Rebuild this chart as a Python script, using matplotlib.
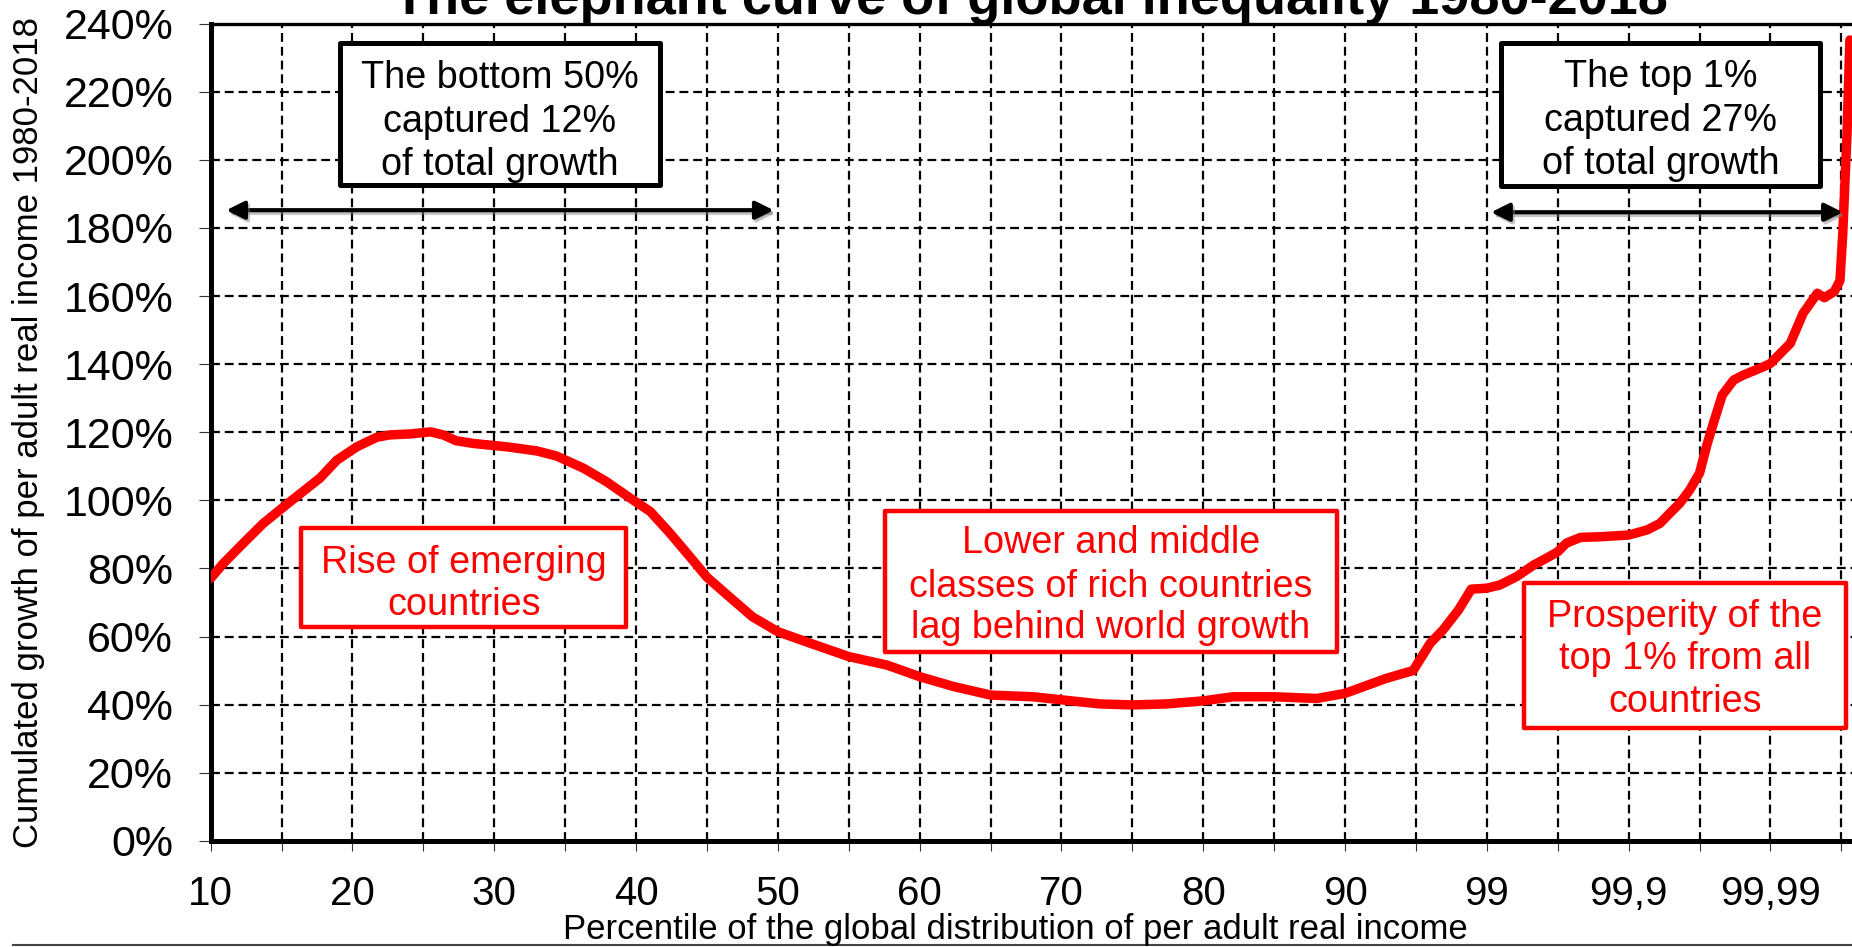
import matplotlib
matplotlib.use('Agg')
import matplotlib.pyplot as plt
import matplotlib.patheffects as pe
from matplotlib.patches import Rectangle, FancyArrowPatch, ArrowStyle
from matplotlib.lines import Line2D

plt.rcParams['font.family'] = ['Liberation Sans', 'DejaVu Sans']

# x axis: one step per label, the top groups are stretched out
tick_labels = ['10', '20', '30', '40', '50', '60', '70', '80', '90', '99', '99,9', '99,99']

# elephant curve, position on the percentile axis and cumulated growth (%)
pos = [0.0, 0.09, 0.23, 0.37, 0.56, 0.77, 0.89, 1.03, 1.17, 1.26, 1.41, 1.55,
       1.64, 1.73, 1.85, 2.09, 2.3, 2.44, 2.63, 2.79, 2.96, 3.1, 3.24, 3.38,
       3.5, 3.64, 3.82, 4.0, 4.23, 4.5, 4.77, 5.0, 5.24, 5.5, 5.8, 6.0,
       6.27, 6.5, 6.74, 7.0, 7.21, 7.5, 7.8, 8.0, 8.29, 8.48, 8.6, 8.69,
       8.8, 8.89, 9.0, 9.09, 9.21, 9.33, 9.42, 9.5, 9.56, 9.66, 9.8, 10.0,
       10.13, 10.22, 10.29, 10.36, 10.43, 10.5, 10.55, 10.6, 10.66, 10.74,
       10.81, 10.95, 11.0, 11.14, 11.23, 11.33, 11.38, 11.45, 11.49, 11.51,
       11.54, 11.56]
growth = [77.1, 81.5, 87.4, 93.2, 99.6, 106.5, 111.8, 115.7, 118.5, 119.2, 119.5, 120.1,
          119.2, 117.5, 116.7, 115.7, 114.5, 113, 109.4, 105.5, 100.6, 96.7, 90.3, 83.4,
          77.4, 72.3, 65.8, 61.4, 58, 54.1, 51.6, 48.2, 45.3, 42.8, 42.3, 41.4,
          40.2, 39.9, 40.2, 41.1, 42.3, 42.3, 41.8, 43.3, 47.7, 50, 58, 61.9,
          67.8, 73.9, 74.2, 75.1, 77.6, 81, 83, 84.9, 87.4, 89.1, 89.3, 89.8,
          91.3, 93.2, 96.2, 99.1, 103, 108, 116, 123, 130.9, 135.3,
          136.8, 139.2, 140.2, 146.1, 154.9, 160.8, 159.5, 161.3, 164.5, 178.4,
          207.8, 235.2]

y_ticks = list(range(0, 241, 20))

title = 'The elephant curve of global inequality 1980-2018'
xlabel = 'Percentile of the global distribution of per adult real income'
ylabel = 'Cumulated growth of per adult real income 1980-2018'

fig = plt.figure(figsize=(18.52, 9.47), dpi=100)
ax = fig.add_axes([0.11377, 0.11214, 0.88623, 0.86294])

ax.plot(pos, growth, color='#FF0000', lw=6.8, solid_joinstyle='round',
        solid_capstyle='round', zorder=3)

ax.set_xlim(0, 11.575)
ax.set_ylim(0, 240)
ax.set_xticks(range(len(tick_labels)))
ax.set_xticklabels(tick_labels)
ax.set_xticks([i + 0.5 for i in range(len(tick_labels))], minor=True)
ax.set_yticks(y_ticks)
ax.set_yticklabels([f'{v}%' for v in y_ticks])

ax.tick_params(axis='x', which='both', direction='out', length=7.5, width=0.8,
               color='#333333', pad=17, labelsize=29)
ax.tick_params(axis='y', direction='out', length=9, width=0.8,
               color='#333333', pad=18, labelsize=31)
ax.grid(which='both', color='black', linestyle=(0, (4, 2.2)), linewidth=1.6)
ax.set_axisbelow(True)

ax.spines['right'].set_visible(False)
ax.spines['left'].set_linewidth(3.6)
ax.spines['bottom'].set_linewidth(3.6)
ax.spines['top'].set_linewidth(2.4)

# annotation boxes: (x0, x1, y0, y1, colour, center x, [(baseline, text)])
boxes = [
    (0.91, 3.17, 192.5, 234.3, 'black', 2.04,
     [(221.0, 'The bottom 50%'), (208.3, 'captured 12%'), (195.6, 'of total growth')]),
    (9.10, 11.35, 192.3, 234.4, 'black', 10.225,
     [(221.3, 'The top 1%'), (208.6, 'captured 27%'), (195.9, 'of total growth')]),
    (0.64, 2.93, 62.9, 91.8, '#FF0000', 1.785,
     [(78.7, 'Rise of emerging'), (66.3, 'countries')]),
    (4.755, 7.94, 55.5, 96.8, '#FF0000', 6.35,
     [(84.4, 'Lower and middle'), (71.7, 'classes of rich countries'),
      (59.5, 'lag behind world growth')]),
    (9.26, 11.53, 33.1, 75.7, '#FF0000', 10.395,
     [(62.9, 'Prosperity of the'), (50.4, 'top 1% from all'), (37.9, 'countries')]),
]
for x0, x1, y0, y1, col, cx, lines in boxes:
    lw = 3.6 if col == 'black' else 3.2
    ax.add_patch(Rectangle((x0, y0), x1 - x0, y1 - y0, facecolor='white',
                           edgecolor=col, lw=lw, joinstyle='round', zorder=4))
    for yb, txt in lines:
        ax.text(cx, yb, txt, ha='center', va='baseline', fontsize=27.2,
                color=col, zorder=5)

shadow = [pe.SimpleLineShadow(offset=(1.5, -2), shadow_color='gray', alpha=0.45),
          pe.SimplePatchShadow(offset=(1.5, -2), shadow_rgbFace='gray', alpha=0.45),
          pe.Normal()]
for xa, xb, ya in [(0.11, 3.97, 185.2), (9.03, 11.51, 184.6)]:
    arr = FancyArrowPatch((xa, ya), (xb, ya),
                          arrowstyle=ArrowStyle('<|-|>', head_length=0.9, head_width=0.45),
                          mutation_scale=12, lw=3.0, color='black',
                          shrinkA=0, shrinkB=0, zorder=4)
    arr.set_path_effects(shadow)
    ax.add_patch(arr)

fig.text(0.5564, 1 - 14 / 947, title, ha='center', va='baseline',
         fontsize=39, fontweight='bold')
fig.text(29 / 1852, 1 - 432 / 947, ylabel, rotation=90, ha='center',
         va='center', fontsize=25)
fig.text(1015.5 / 1852, 8 / 947, xlabel, ha='center', va='baseline', fontsize=25)

fig.add_artist(Line2D([0.007, 1.0], [0.0021, 0.0021], transform=fig.transFigure,
                      color='#444444', lw=1.5))

fig.savefig('out.png', dpi=100)
